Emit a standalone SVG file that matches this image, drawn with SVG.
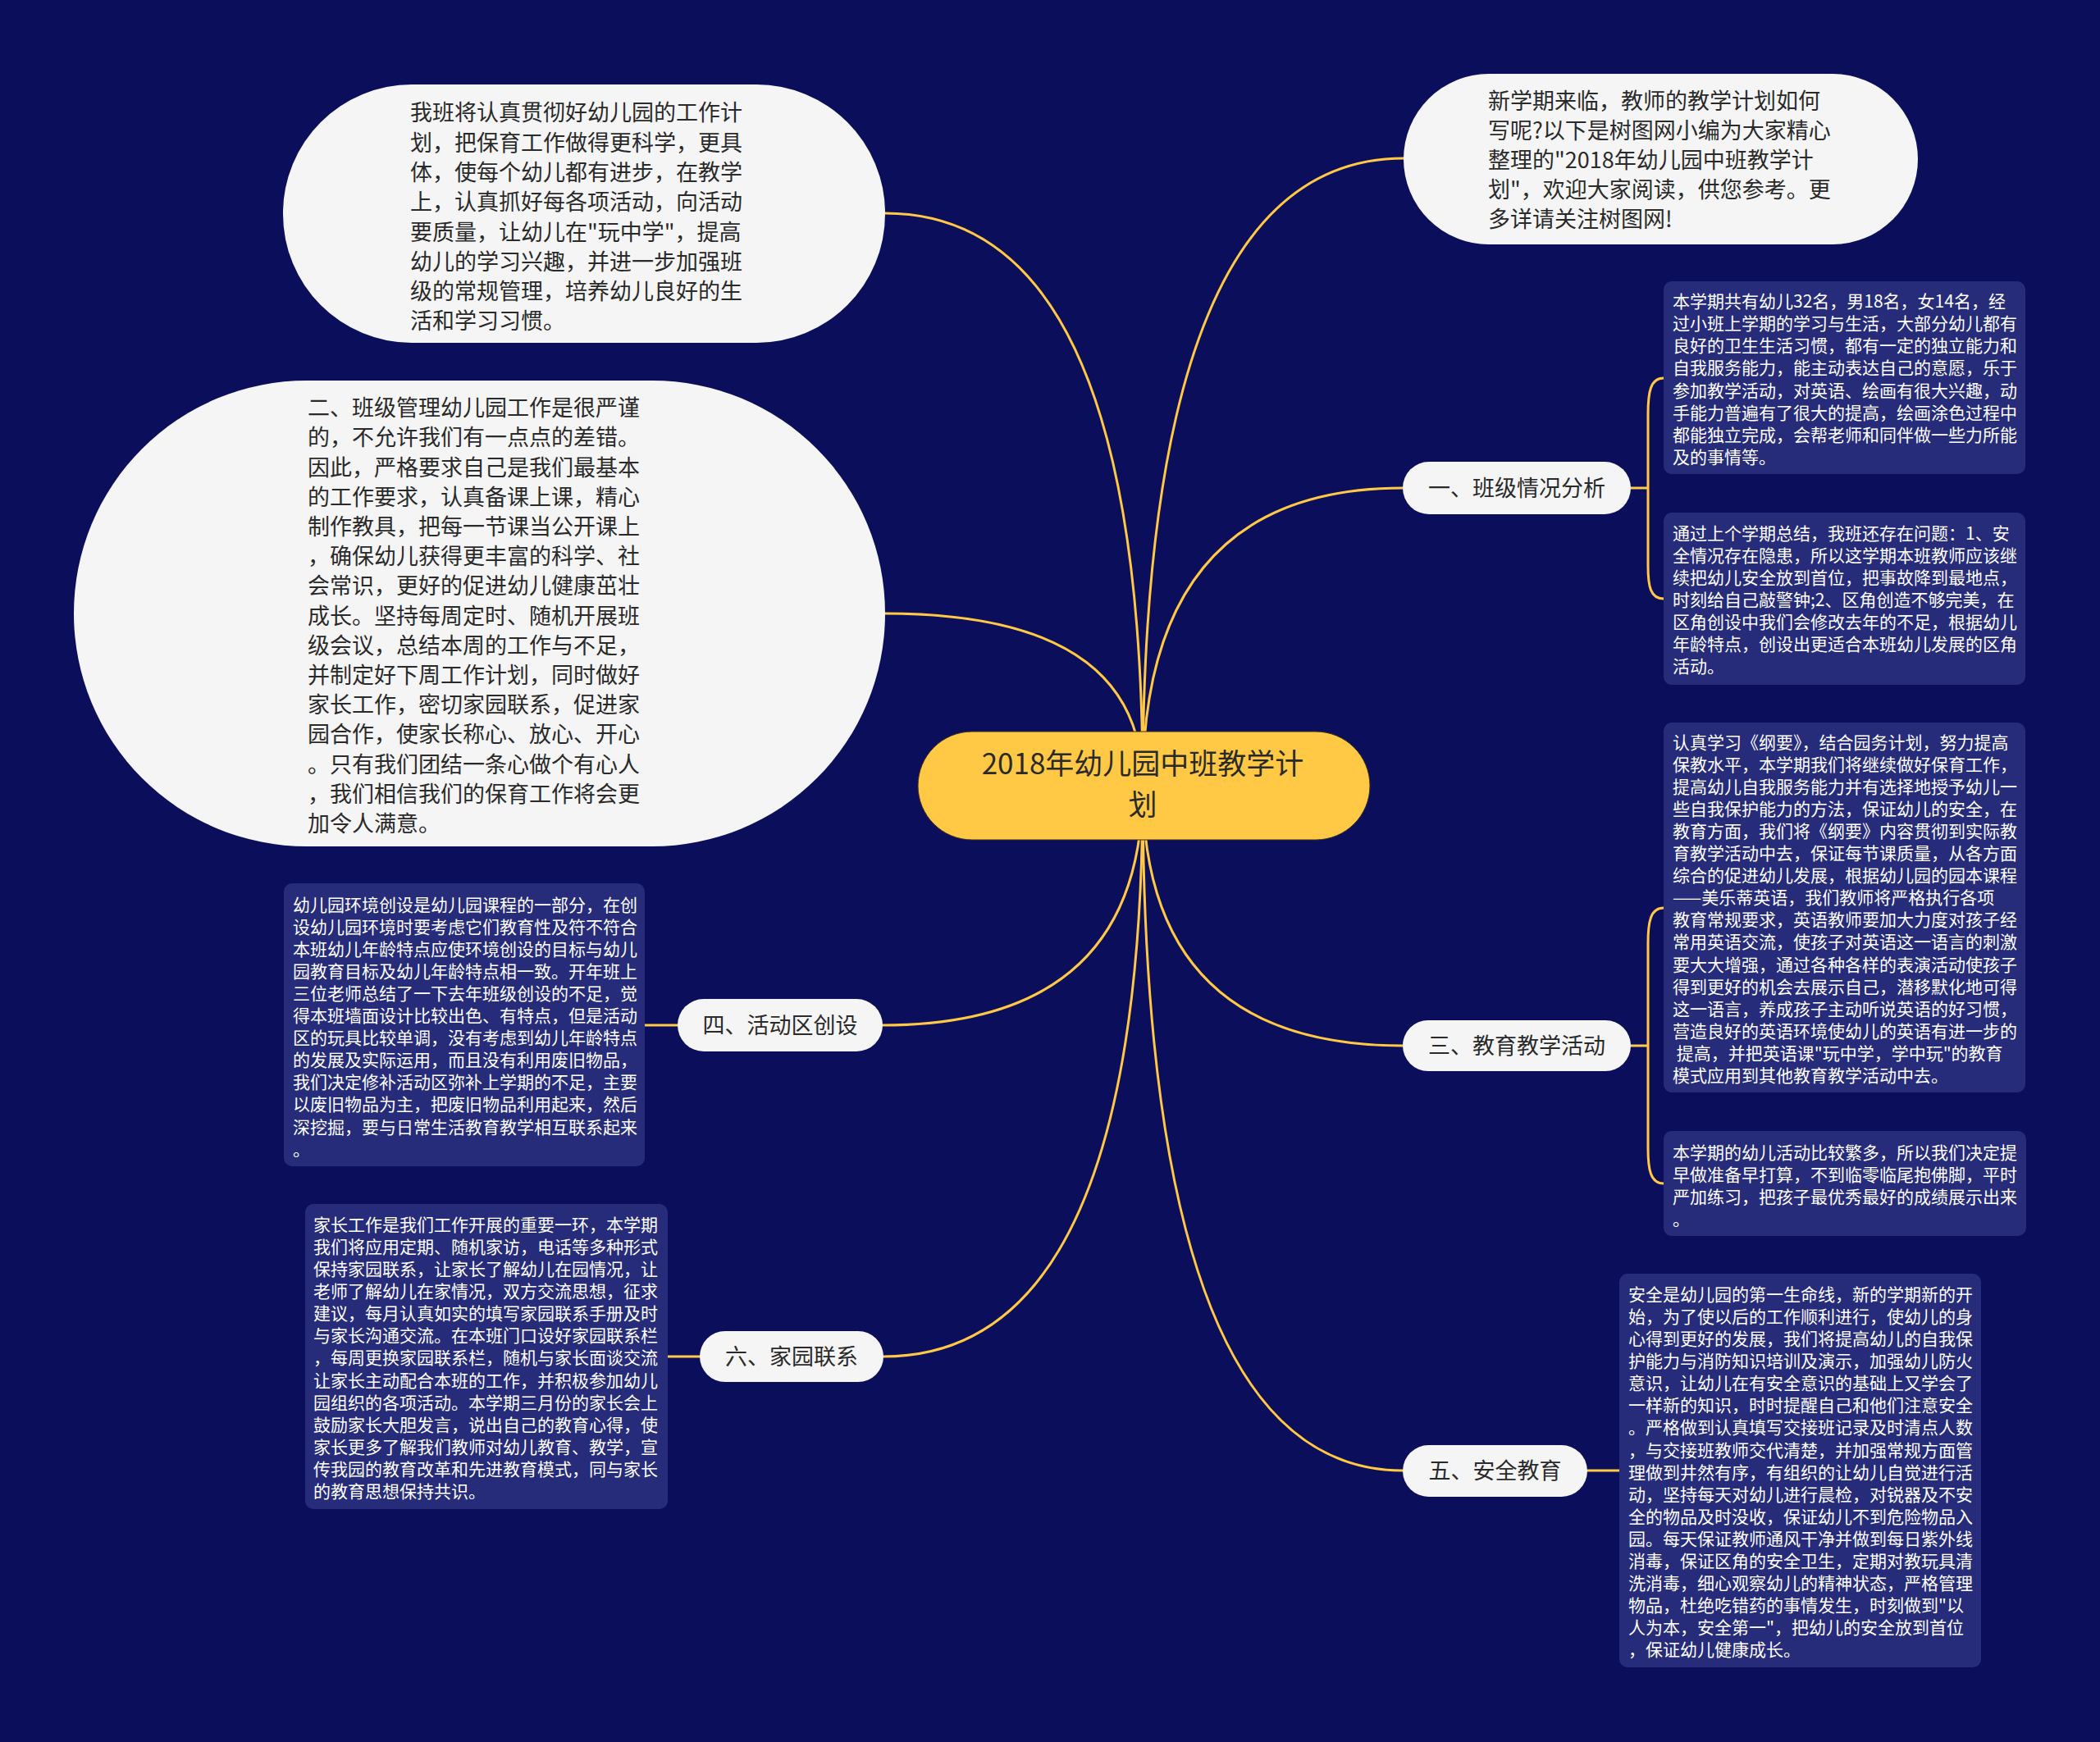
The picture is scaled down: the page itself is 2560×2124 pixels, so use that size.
<svg xmlns="http://www.w3.org/2000/svg" width="2560" height="2124" viewBox="0 0 2560 2124">
<style>
.pill{fill:#f5f5f5}
.box{fill:#262c7a}
.lbl{font-family:"Noto Sans CJK SC","Noto Sans",sans-serif;font-size:27px;fill:#2a2a2a;text-anchor:middle}
.big{font-family:"Noto Sans CJK SC","Noto Sans",sans-serif;font-size:27px;fill:#2a2a2a}
.sm{font-family:"Noto Sans CJK SC","Noto Sans",sans-serif;font-size:21px;fill:#ffffff}
.ln{fill:none;stroke:#ffc845;stroke-width:3;stroke-linecap:round}
</style>
<rect x="0" y="0" width="2560" height="2124" fill="#0b0e5b"/>
<g id="connectors">
<path class="ln" d="M1393 958 Q1393 193 1711 193"/>
<path class="ln" d="M1393 958 Q1393 595 1710 595"/>
<path class="ln" d="M1393 958 Q1393 1275 1710 1275"/>
<path class="ln" d="M1393 958 Q1393 1793 1710 1793"/>
<path class="ln" d="M1393 958 Q1393 260 1079 260"/>
<path class="ln" d="M1393 958 Q1393 748 1079 748"/>
<path class="ln" d="M1393 958 Q1393 1250 1076 1250"/>
<path class="ln" d="M1393 958 Q1393 1654 1077 1654"/>
<path class="ln" d="M1988 595 L2008 595"/>
<path class="ln" d="M2028 461 C2012 461 2009 478 2009 505 L2009 690 C2009 715 2012 730 2028 730"/>
<path class="ln" d="M1988 1275 L2008 1275"/>
<path class="ln" d="M2028 1107 C2012 1107 2009 1124 2009 1150 L2009 1400 C2009 1426 2012 1443 2028 1443"/>
<path class="ln" d="M1935 1793 L1974 1793"/>
<path class="ln" d="M786 1250 L826 1250"/>
<path class="ln" d="M814 1654 L853 1654"/>
</g>
<g id="center">
<rect x="1119" y="892" width="551" height="132" rx="66" fill="#ffc845" stroke="#3a3020" stroke-width="1"/>
<text x="1393" y="944" font-family="Noto Sans CJK SC, sans-serif" font-size="35" fill="#2a2a2a" text-anchor="middle">2018年幼儿园中班教学计</text>
<text x="1393" y="994" font-family="Noto Sans CJK SC, sans-serif" font-size="35" fill="#2a2a2a" text-anchor="middle">划</text>
</g>
<g id="intro">
<rect class="pill" x="1711" y="90" width="627" height="208" rx="104"/>
<text class="big"><tspan x="1814" y="133">新学期来临，教师的教学计划如何</tspan><tspan x="1814" y="169">写呢?以下是树图网小编为大家精心</tspan><tspan x="1814" y="205">整理的"2018年幼儿园中班教学计</tspan><tspan x="1814" y="241">划"，欢迎大家阅读，供您参考。更</tspan><tspan x="1814" y="277">多详请关注树图网!</tspan></text>
</g>
<g id="topleft">
<rect class="pill" x="345" y="103" width="734" height="315" rx="157"/>
<text class="big"><tspan x="500" y="147">我班将认真贯彻好幼儿园的工作计</tspan><tspan x="500" y="183.5">划，把保育工作做得更科学，更具</tspan><tspan x="500" y="220">体，使每个幼儿都有进步，在教学</tspan><tspan x="500" y="256">上，认真抓好每各项活动，向活动</tspan><tspan x="500" y="292.5">要质量，让幼儿在"玩中学"，提高</tspan><tspan x="500" y="328.5">幼儿的学习兴趣，并进一步加强班</tspan><tspan x="500" y="365">级的常规管理，培养幼儿良好的生</tspan><tspan x="500" y="401">活和学习习惯。</tspan></text>
</g>
<g id="manage">
<rect class="pill" x="90" y="464" width="989" height="568" rx="284"/>
<text class="big"><tspan x="375" y="507">二、班级管理幼儿园工作是很严谨</tspan><tspan x="375" y="543">的，不允许我们有一点点的差错。</tspan><tspan x="375" y="579.5">因此，严格要求自己是我们最基本</tspan><tspan x="375" y="615.5">的工作要求，认真备课上课，精心</tspan><tspan x="375" y="652">制作教具，把每一节课当公开课上</tspan><tspan x="375" y="688">，确保幼儿获得更丰富的科学、社</tspan><tspan x="375" y="724">会常识，更好的促进幼儿健康茁壮</tspan><tspan x="375" y="760.5">成长。坚持每周定时、随机开展班</tspan><tspan x="375" y="796.5">级会议，总结本周的工作与不足，</tspan><tspan x="375" y="833">并制定好下周工作计划，同时做好</tspan><tspan x="375" y="869">家长工作，密切家园联系，促进家</tspan><tspan x="375" y="905">园合作，使家长称心、放心、开心</tspan><tspan x="375" y="941.5">。只有我们团结一条心做个有心人</tspan><tspan x="375" y="977.5">，我们相信我们的保育工作将会更</tspan><tspan x="375" y="1014">加令人满意。</tspan></text>
</g>
<g id="b1">
<rect class="pill" x="1710" y="563" width="278" height="64" rx="32"/>
<text class="lbl" x="1849" y="605">一、班级情况分析</text>
</g>
<g id="b1a">
<rect class="box" x="2028" y="343" width="441" height="235" rx="10"/>
<text class="sm"><tspan x="2039" y="375">本学期共有幼儿32名，男18名，女14名，经</tspan><tspan x="2039" y="402">过小班上学期的学习与生活，大部分幼儿都有</tspan><tspan x="2039" y="429">良好的卫生生活习惯，都有一定的独立能力和</tspan><tspan x="2039" y="456">自我服务能力，能主动表达自己的意愿，乐于</tspan><tspan x="2039" y="484">参加教学活动，对英语、绘画有很大兴趣，动</tspan><tspan x="2039" y="511">手能力普遍有了很大的提高，绘画涂色过程中</tspan><tspan x="2039" y="538">都能独立完成，会帮老师和同伴做一些力所能</tspan><tspan x="2039" y="565">及的事情等。</tspan></text>
</g>
<g id="b1b">
<rect class="box" x="2028" y="625" width="441" height="210" rx="10"/>
<text class="sm"><tspan x="2039" y="658">通过上个学期总结，我班还存在问题：1、安</tspan><tspan x="2039" y="685">全情况存在隐患，所以这学期本班教师应该继</tspan><tspan x="2039" y="712">续把幼儿安全放到首位，把事故降到最地点，</tspan><tspan x="2039" y="739">时刻给自己敲警钟;2、区角创造不够完美，在</tspan><tspan x="2039" y="766">区角创设中我们会修改去年的不足，根据幼儿</tspan><tspan x="2039" y="793">年龄特点，创设出更适合本班幼儿发展的区角</tspan><tspan x="2039" y="820">活动。</tspan></text>
</g>
<g id="b3">
<rect class="pill" x="1710" y="1244" width="278" height="62" rx="31"/>
<text class="lbl" x="1849" y="1285">三、教育教学活动</text>
</g>
<g id="b3a">
<rect class="box" x="2028" y="881" width="441" height="451" rx="10"/>
<text class="sm"><tspan x="2039" y="913">认真学习《纲要》，结合园务计划，努力提高</tspan><tspan x="2039" y="940">保教水平，本学期我们将继续做好保育工作，</tspan><tspan x="2039" y="967">提高幼儿自我服务能力并有选择地授予幼儿一</tspan><tspan x="2039" y="994">些自我保护能力的方法，保证幼儿的安全，在</tspan><tspan x="2039" y="1021">教育方面，我们将《纲要》内容贯彻到实际教</tspan><tspan x="2039" y="1048">育教学活动中去，保证每节课质量，从各方面</tspan><tspan x="2039" y="1075">综合的促进幼儿发展，根据幼儿园的园本课程</tspan><tspan x="2039" y="1102">——美乐蒂英语，我们教师将严格执行各项</tspan><tspan x="2039" y="1129">教育常规要求，英语教师要加大力度对孩子经</tspan><tspan x="2039" y="1156">常用英语交流，使孩子对英语这一语言的刺激</tspan><tspan x="2039" y="1184">要大大增强，通过各种各样的表演活动使孩子</tspan><tspan x="2039" y="1211">得到更好的机会去展示自己，潜移默化地可得</tspan><tspan x="2039" y="1238">这一语言，养成孩子主动听说英语的好习惯，</tspan><tspan x="2039" y="1265">营造良好的英语环境使幼儿的英语有进一步的</tspan><tspan x="2039" y="1292"> 提高，并把英语课"玩中学，学中玩"的教育</tspan><tspan x="2039" y="1319">模式应用到其他教育教学活动中去。</tspan></text>
</g>
<g id="b3b">
<rect class="box" x="2028" y="1379" width="442" height="128" rx="10"/>
<text class="sm"><tspan x="2039" y="1413">本学期的幼儿活动比较繁多，所以我们决定提</tspan><tspan x="2039" y="1440">早做准备早打算，不到临零临尾抱佛脚，平时</tspan><tspan x="2039" y="1467">严加练习，把孩子最优秀最好的成绩展示出来</tspan><tspan x="2039" y="1494">。</tspan></text>
</g>
<g id="b5">
<rect class="pill" x="1710" y="1762" width="225" height="63" rx="31.5"/>
<text class="lbl" x="1822.5" y="1803">五、安全教育</text>
</g>
<g id="b5a">
<rect class="box" x="1974" y="1553" width="441" height="480" rx="10"/>
<text class="sm"><tspan x="1985" y="1586">安全是幼儿园的第一生命线，新的学期新的开</tspan><tspan x="1985" y="1613">始，为了使以后的工作顺利进行，使幼儿的身</tspan><tspan x="1985" y="1640">心得到更好的发展，我们将提高幼儿的自我保</tspan><tspan x="1985" y="1667">护能力与消防知识培训及演示，加强幼儿防火</tspan><tspan x="1985" y="1694">意识，让幼儿在有安全意识的基础上又学会了</tspan><tspan x="1985" y="1721">一样新的知识，时时提醒自己和他们注意安全</tspan><tspan x="1985" y="1748">。严格做到认真填写交接班记录及时清点人数</tspan><tspan x="1985" y="1776">，与交接班教师交代清楚，并加强常规方面管</tspan><tspan x="1985" y="1803">理做到井然有序，有组织的让幼儿自觉进行活</tspan><tspan x="1985" y="1830">动，坚持每天对幼儿进行晨检，对锐器及不安</tspan><tspan x="1985" y="1857">全的物品及时没收，保证幼儿不到危险物品入</tspan><tspan x="1985" y="1884">园。每天保证教师通风干净并做到每日紫外线</tspan><tspan x="1985" y="1911">消毒，保证区角的安全卫生，定期对教玩具清</tspan><tspan x="1985" y="1938">洗消毒，细心观察幼儿的精神状态，严格管理</tspan><tspan x="1985" y="1965">物品，杜绝吃错药的事情发生，时刻做到"以</tspan><tspan x="1985" y="1992">人为本，安全第一"，把幼儿的安全放到首位</tspan><tspan x="1985" y="2019">，保证幼儿健康成长。</tspan></text>
</g>
<g id="b4">
<rect class="pill" x="826" y="1218" width="250" height="64" rx="32"/>
<text class="lbl" x="951" y="1260">四、活动区创设</text>
</g>
<g id="b4a">
<rect class="box" x="346" y="1077" width="440" height="345" rx="10"/>
<text class="sm"><tspan x="357" y="1111">幼儿园环境创设是幼儿园课程的一部分，在创</tspan><tspan x="357" y="1138">设幼儿园环境时要考虑它们教育性及符不符合</tspan><tspan x="357" y="1165">本班幼儿年龄特点应使环境创设的目标与幼儿</tspan><tspan x="357" y="1192">园教育目标及幼儿年龄特点相一致。开年班上</tspan><tspan x="357" y="1219">三位老师总结了一下去年班级创设的不足，觉</tspan><tspan x="357" y="1246">得本班墙面设计比较出色、有特点，但是活动</tspan><tspan x="357" y="1273">区的玩具比较单调，没有考虑到幼儿年龄特点</tspan><tspan x="357" y="1300">的发展及实际运用，而且没有利用废旧物品，</tspan><tspan x="357" y="1327">我们决定修补活动区弥补上学期的不足，主要</tspan><tspan x="357" y="1354">以废旧物品为主，把废旧物品利用起来，然后</tspan><tspan x="357" y="1382">深挖掘，要与日常生活教育教学相互联系起来</tspan><tspan x="357" y="1409">。</tspan></text>
</g>
<g id="b6">
<rect class="pill" x="853" y="1623" width="224" height="62" rx="31"/>
<text class="lbl" x="965" y="1664">六、家园联系</text>
</g>
<g id="b6a">
<rect class="box" x="372" y="1468" width="442" height="372" rx="10"/>
<text class="sm"><tspan x="382" y="1501">家长工作是我们工作开展的重要一环，本学期</tspan><tspan x="382" y="1528">我们将应用定期、随机家访，电话等多种形式</tspan><tspan x="382" y="1555">保持家园联系，让家长了解幼儿在园情况，让</tspan><tspan x="382" y="1582">老师了解幼儿在家情况，双方交流思想，征求</tspan><tspan x="382" y="1609">建议，每月认真如实的填写家园联系手册及时</tspan><tspan x="382" y="1636">与家长沟通交流。在本班门口设好家园联系栏</tspan><tspan x="382" y="1663">，每周更换家园联系栏，随机与家长面谈交流</tspan><tspan x="382" y="1691">让家长主动配合本班的工作，并积极参加幼儿</tspan><tspan x="382" y="1718">园组织的各项活动。本学期三月份的家长会上</tspan><tspan x="382" y="1745">鼓励家长大胆发言，说出自己的教育心得，使</tspan><tspan x="382" y="1772">家长更多了解我们教师对幼儿教育、教学，宣</tspan><tspan x="382" y="1799">传我园的教育改革和先进教育模式，同与家长</tspan><tspan x="382" y="1826">的教育思想保持共识。</tspan></text>
</g>
</svg>
